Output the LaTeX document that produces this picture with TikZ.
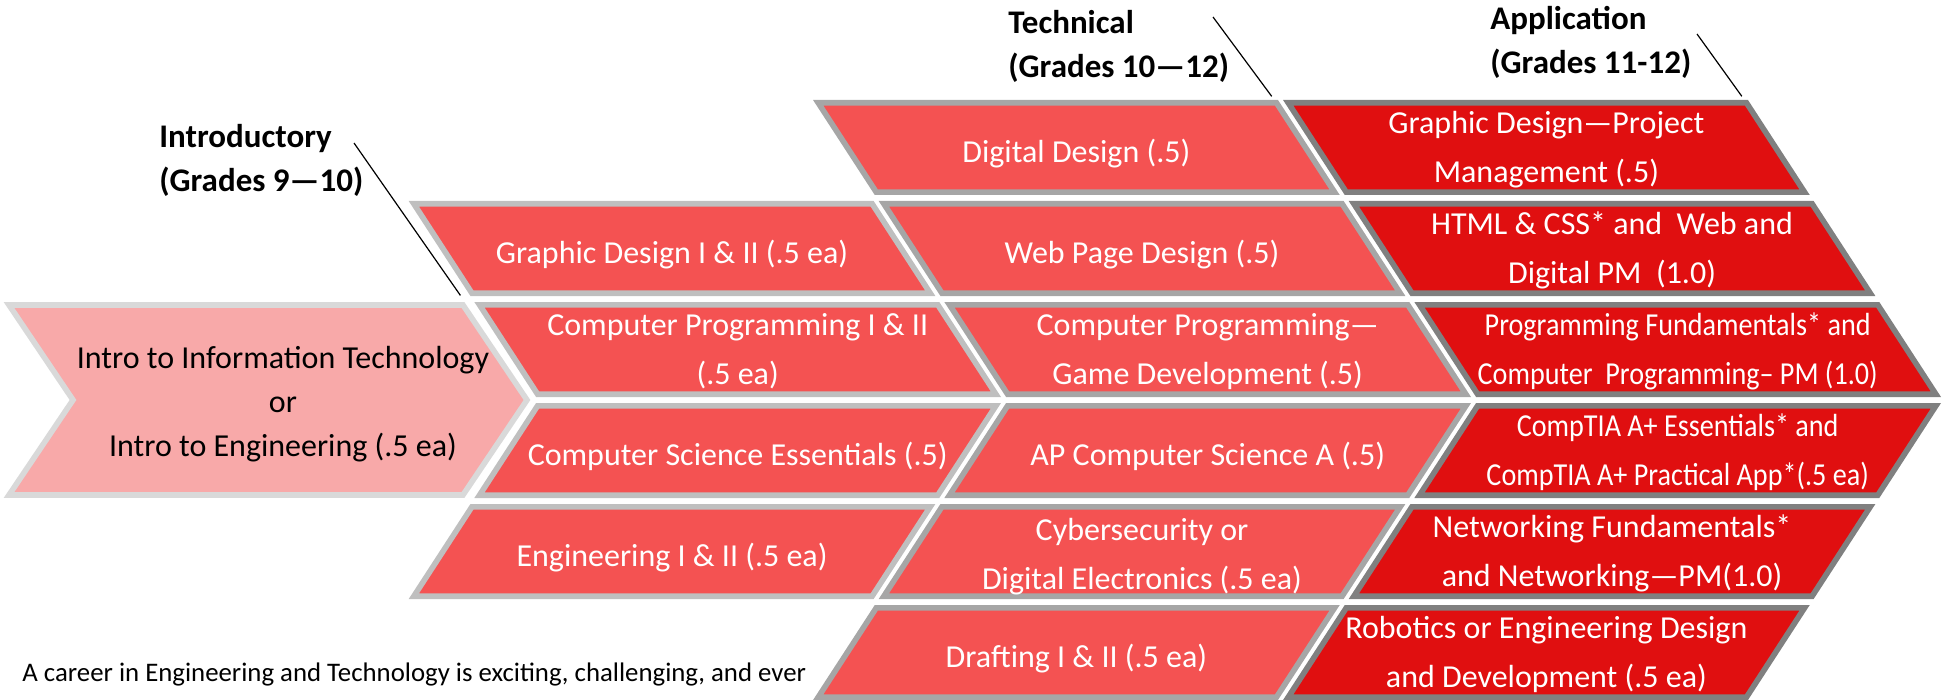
\documentclass[tikz,border=0pt]{standalone}
\usepackage{fontspec}
\setmainfont{Carlito}
\newfontfamily\narrowfont{Carlito}[FakeStretch=0.88]
\usepackage{tikz}
\usetikzlibrary{calc}

\definecolor{introfill}{HTML}{F8A9A9}
\definecolor{introline}{HTML}{D9D9D9}
\definecolor{techfill}{HTML}{F45252}
\definecolor{firstline}{HTML}{BFBFBF}
\definecolor{techline}{HTML}{A6A6A6}
\definecolor{applfill}{HTML}{E00F10}
\definecolor{applline}{HTML}{808080}

\newcommand{\chevslant}{0.65}
\newcommand{\chevwidth}{465}
\newcommand{\chevinset}{2.8}
% one course box: [text style] name, row, column, shape style, text
\newcommand{\course}[6][]{%
  \pgfmathsetmacro{\cTop}{100+101*#3+\chevinset}%
  \pgfmathsetmacro{\cBot}{195+101*#3-\chevinset}%
  \pgfmathsetmacro{\cNotch}{68+470*#4}%
  \pgfmathsetmacro{\cTL}{\cNotch-\chevslant*abs(\cTop-400)+1.2*\chevinset}%
  \pgfmathsetmacro{\cBL}{\cNotch-\chevslant*abs(\cBot-400)+1.2*\chevinset}%
  \pgfmathsetmacro{\cTR}{\cTL+\chevwidth-2.4*\chevinset}%
  \pgfmathsetmacro{\cBR}{\cBL+\chevwidth-2.4*\chevinset}%
  \draw[#5] (\cTL,\cTop) -- (\cTR,\cTop) -- (\cBR,\cBot) -- (\cBL,\cBot) -- cycle;
  \coordinate (#2-tr) at (\cTR,\cTop);
  \node[course,#1] (#2) at ({(\cTL+\cBR)/2},{(\cTop+\cBot)/2}) {#6};
}

\tikzset{
  shell/.style={line width=2.8pt,line join=miter},
  intro/.style={shell,draw=introline,fill=introfill},
  first/.style={shell,draw=firstline,fill=techfill},
  tech/.style={shell,draw=techline,fill=techfill},
  appl/.style={shell,draw=applline,fill=applfill},
  course/.style={text=white,align=center,inner sep=0pt,yshift=-1pt,
    font=\fontsize{16}{24.6}\selectfont},
  oneline/.style={yshift=-2pt},
  heading/.style={anchor=west,align=left,inner sep=0pt,
    font=\bfseries\fontsize{16.5}{22}\selectfont},
  leader/.style={line width=0.6pt,shorten >=4pt}
}

\begin{document}
\begin{tikzpicture}[x=0.5pt,y=-0.5pt]
  \useasboundingbox (0,0) rectangle (1947,700);
  % intro arrow
  \draw[intro] (9,305) -- (463,305) -- (527,400) -- (463,495) -- (9,495) -- (73,400) -- cycle;
  \coordinate (intro-tr) at (465,302);
  \node[course,text=black,yshift=-1.2pt,font=\fontsize{16}{22}\selectfont] (introcourse) at (283,400)
    {Intro to Information Technology\\or\\Intro to Engineering (.5 ea)};
  % first column
  \course[oneline]{gd}{1}{1}{first}{Graphic Design I \& II (.5 ea)}
  \course{cp}{2}{1}{first}{Computer Programming I \& II\\(.5 ea)}
  \course[oneline]{cse}{3}{1}{first}{Computer Science Essentials (.5)}
  \course[oneline]{eng}{4}{1}{first}{Engineering I \& II (.5 ea)}
  % technical column
  \course[oneline]{dd}{0}{2}{tech}{Digital Design (.5)}
  \course[oneline]{web}{1}{2}{tech}{Web Page Design (.5)}
  \course{game}{2}{2}{tech}{Computer Programming—\\Game Development (.5)}
  \course[oneline]{apcs}{3}{2}{tech}{AP Computer Science A (.5)}
  \course[yshift=-1.5pt]{cyber}{4}{2}{tech}{Cybersecurity or\\Digital Electronics (.5 ea)}
  \course[oneline]{draft}{5}{2}{tech}{Drafting I \& II (.5 ea)}
  % application column
  \course{gdpm}{0}{3}{appl}{Graphic Design—Project\\Management (.5)}
  \course{html}{1}{3}{appl}{HTML \& CSS* and\ \ Web and\\Digital PM\ \ (1.0)}
  \course{progf}{2}{3}{appl}{\narrowfont Programming Fundamentals* and\\\narrowfont Computer\ \ Programming– PM (1.0)}
  \course{comptia}{3}{3}{appl}{\narrowfont CompTIA A+ Essentials* and\\\narrowfont CompTIA A+ Practical App*(.5 ea)}
  \course{net}{4}{3}{appl}{Networking Fundamentals*\\and Networking—PM(1.0)}
  \course{robo}{5}{3}{appl}{Robotics or Engineering Design\\and Development (.5 ea)}
  % headings
  \node[heading] (introhead) at (159,160) {Introductory\\(Grades 9—10)};
  \node[heading] (techhead) at (1008,46) {Technical\\(Grades 10—12)};
  \node[heading] (applhead) at (1490,42) {Application\\(Grades 11-12)};
  \coordinate (introhead-end) at (354,143);
  \coordinate (techhead-end) at (1213,17);
  \coordinate (applhead-end) at (1697,34);
  \draw[leader] (introhead-end) -- (intro-tr);
  \draw[leader] (techhead-end) -- (dd-tr);
  \draw[leader] (applhead-end) -- (gdpm-tr);
  \node[anchor=west,inner sep=0pt,font=\fontsize{13.4}{16}\selectfont] (career) at (22,674)
    {A career in Engineering and Technology is exciting, challenging, and ever};
\end{tikzpicture}
\end{document}
